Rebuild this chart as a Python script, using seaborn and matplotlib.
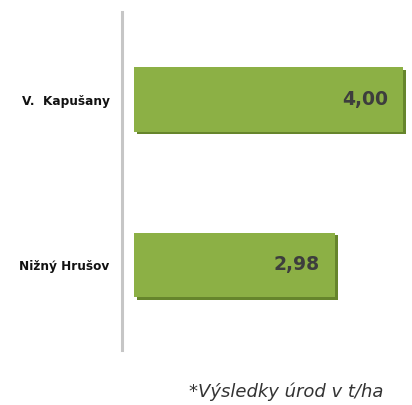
import matplotlib
matplotlib.use("Agg")
import matplotlib.pyplot as plt
import matplotlib.patheffects as pe
import seaborn as sns
import pandas as pd

categories = ["V.  Kapušany", "Nižný Hrušov"]
values = [4.00, 2.98]
value_labels = ["4,00", "2,98"]
footnote = "*Výsledky úrod v t/ha"

sns.set_theme(style="white")
plt.rcParams['font.family'] = ['DejaVu Sans']

W, H = 412, 405
fig = plt.figure(figsize=(W / 100, H / 100), dpi=100)
ax = fig.add_axes([122 / W, (H - 350) / H, (W - 122) / W, (350 - 12) / H])

df = pd.DataFrame({"place": categories, "yield": values})
sns.barplot(data=df, y="place", x="yield", orient="h", color="#8cb045",
            saturation=1, width=0.39, ax=ax)

for p in ax.patches:
    p.set_edgecolor("none")
    p.set_path_effects([pe.SimplePatchShadow(offset=(2.2, -1.8), shadow_rgbFace="#66852c", alpha=1.0),
                        pe.Normal()])

ax.set_xlim(-0.178, 4.13)
ax.set_ylim(1.514, -0.529)

for i, (v, lab) in enumerate(zip(values, value_labels)):
    ax.annotate(lab, xy=(v, i), xytext=(-11, 0), textcoords="offset points",
                ha="right", va="center", fontsize=13.5, fontweight="bold",
                color="#3d3d3d")

ax.set_xlabel("")
ax.set_ylabel("")
ax.set_xticks([])
ax.tick_params(axis="y", length=0, pad=9)
for t in ax.get_yticklabels():
    t.set_fontweight("bold")
    t.set_fontsize(8.7)
    t.set_color("#111111")

for s in ["top", "right", "bottom"]:
    ax.spines[s].set_visible(False)
ax.spines["left"].set_color("#c6c6c6")
ax.spines["left"].set_linewidth(2.2)

fig.text(383 / W, 1 - 392 / H, footnote, ha="right", va="center",
         fontsize=13, fontstyle="italic", color="#333333")

fig.savefig("out.png", dpi=100)
